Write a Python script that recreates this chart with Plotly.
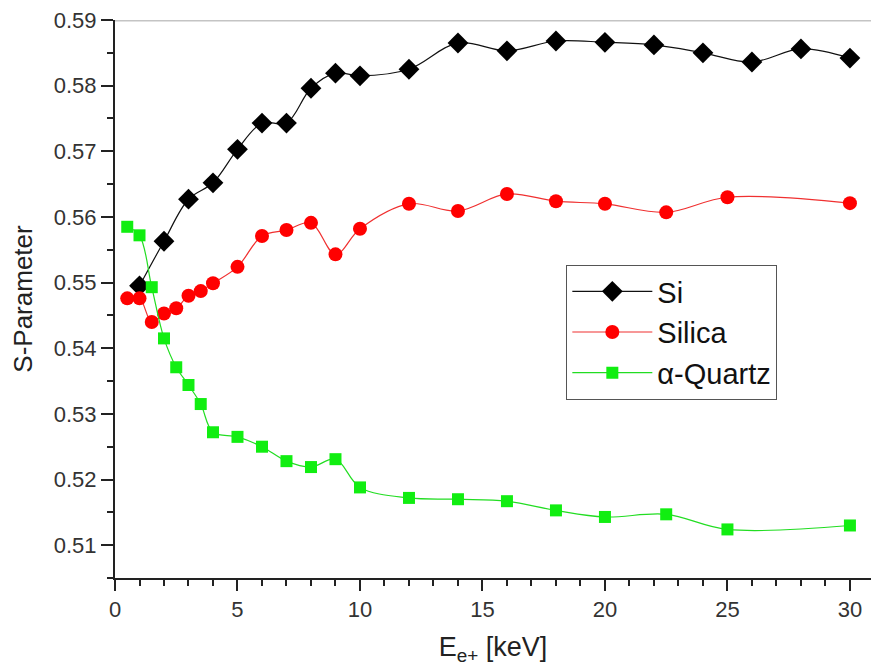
import plotly.graph_objects as go

# ---- data ----
si_x = [1, 2, 3, 4, 5, 6, 7, 8, 9, 10, 12, 14, 16, 18, 20, 22, 24, 26, 28, 30]
si_y = [0.5495, 0.5563, 0.5627, 0.5652, 0.5703, 0.5743, 0.5743, 0.5796, 0.5819, 0.5815,
        0.5825, 0.5865, 0.5853, 0.5868, 0.5866, 0.5862, 0.5850, 0.5836, 0.5856, 0.5842]

silica_x = [0.5, 1, 1.5, 2, 2.5, 3, 3.5, 4, 5, 6, 7, 8, 9, 10, 12, 14, 16, 18, 20, 22.5, 25, 30]
silica_y = [0.5476, 0.5476, 0.5440, 0.5453, 0.5461, 0.5480, 0.5487, 0.5499, 0.5524, 0.5571,
            0.5580, 0.5591, 0.5543, 0.5582, 0.5620, 0.5609, 0.5635, 0.5624, 0.5620, 0.5607,
            0.5630, 0.5621]

quartz_x = [0.5, 1, 1.5, 2, 2.5, 3, 3.5, 4, 5, 6, 7, 8, 9, 10, 12, 14, 16, 18, 20, 22.5, 25, 30]
quartz_y = [0.5585, 0.5572, 0.5493, 0.5415, 0.5371, 0.5344, 0.5315, 0.5272, 0.5265, 0.5250,
            0.5228, 0.5219, 0.5231, 0.5188, 0.5172, 0.5170, 0.5167, 0.5153, 0.5143, 0.5147,
            0.5124, 0.5130]

x_ticks = [0, 5, 10, 15, 20, 25, 30]
y_ticks = [0.51, 0.52, 0.53, 0.54, 0.55, 0.56, 0.57, 0.58, 0.59]

FONT = "Liberation Sans, Arial, sans-serif"

fig = go.Figure()
fig.add_trace(go.Scatter(
    x=si_x, y=si_y, name="Si", mode="lines+markers",
    line=dict(color="#111111", width=1.2, shape="spline", smoothing=1),
    marker=dict(symbol="diamond", size=16, color="black"),
))
fig.add_trace(go.Scatter(
    x=silica_x, y=silica_y, name="Silica", mode="lines+markers",
    line=dict(color="#f03030", width=1.2, shape="spline", smoothing=1),
    marker=dict(symbol="circle", size=14, color="#ff0000"),
))
fig.add_trace(go.Scatter(
    x=quartz_x, y=quartz_y, name="\u03b1-Quartz", mode="lines+markers",
    line=dict(color="#22dd22", width=1.2, shape="spline", smoothing=1),
    marker=dict(symbol="square", size=12, color="#11ee11"),
))

# top frame line (light gray)
fig.add_shape(type="line", xref="x domain", yref="y", x0=0, x1=1, y0=0.59, y1=0.59,
              line=dict(color="#c4c4c4", width=3))

fig.update_layout(
    width=871, height=670,
    margin=dict(l=115, r=0, t=20, b=92),
    paper_bgcolor="white", plot_bgcolor="white",
    font=dict(family=FONT, color="#333333", size=22),
    showlegend=True,
    legend=dict(
        x=0.597, y=0.561, xanchor="left", yanchor="top",
        bgcolor="white", bordercolor="#555555", borderwidth=1,
        font=dict(family=FONT, size=29, color="#111111"),
        itemwidth=80, tracegroupgap=0,
    ),
    xaxis=dict(
        range=[0, 30.86], tickvals=x_ticks, ticktext=[str(v) for v in x_ticks],
        showgrid=False, zeroline=False, showline=True, linecolor="#222222", linewidth=2,
        ticks="outside", ticklen=11, tickwidth=2, tickcolor="#222222",
        minor=dict(dtick=1, tick0=0, ticks="outside", ticklen=6, tickwidth=1.5, tickcolor="#222222"),
        tickfont=dict(size=22, color="#333333"),
        title=dict(text="E<sub>e+</sub> [keV]", font=dict(size=27, color="#222222"), standoff=16),
    ),
    yaxis=dict(
        range=[0.505, 0.59], tickvals=y_ticks, ticktext=[f"{v:.2f}" for v in y_ticks],
        showgrid=False, zeroline=False, showline=True, linecolor="#222222", linewidth=2,
        ticks="outside", ticklen=12, tickwidth=2, tickcolor="#222222",
        minor=dict(dtick=0.005, tick0=0.505, ticks="outside", ticklen=6, tickwidth=1.5, tickcolor="#222222"),
        tickfont=dict(size=22, color="#333333"),
        title=dict(text="S-Parameter", font=dict(size=26, color="#222222"), standoff=14),
    ),
)

fig.write_html("out.html")
